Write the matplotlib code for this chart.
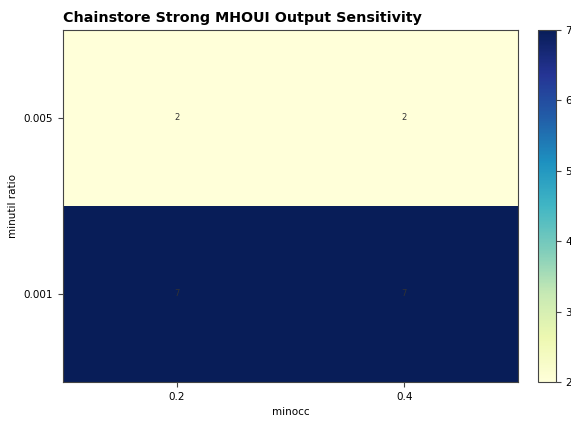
import numpy as np
import matplotlib.pyplot as plt

minocc = [0.2, 0.4]
minutil_ratio = [0.001, 0.005]
# rows follow minutil_ratio, columns follow minocc
output = np.array([
    [7, 7],
    [2, 2],
])

fig = plt.figure(figsize=(5.71, 4.22), dpi=100)
ax = fig.add_axes([0.110, 0.095, 0.797, 0.834])
cax = fig.add_axes([0.942, 0.095, 0.031, 0.834])

im = ax.imshow(output, cmap="YlGnBu", aspect="auto", origin="lower",
               interpolation="nearest")

for i in range(len(minutil_ratio)):
    for j in range(len(minocc)):
        ax.text(j, i, str(output[i, j]), ha="center", va="center",
                fontsize=6, color="#333333")

ax.set_xticks(range(len(minocc)))
ax.set_xticklabels([str(v) for v in minocc], fontsize=7.5)
ax.set_yticks(range(len(minutil_ratio)))
ax.set_yticklabels([str(v) for v in minutil_ratio], fontsize=7.5)
ax.set_xlabel("minocc", fontsize=7.5)
ax.set_ylabel("minutil ratio", fontsize=7.5)
ax.set_title("Chainstore Strong MHOUI Output Sensitivity", loc="left",
             fontsize=10.3, fontweight="bold")
for s in ax.spines.values():
    s.set_edgecolor("#444444")
ax.tick_params(color="#444444")

cb = fig.colorbar(im, cax=cax)
cb.ax.tick_params(labelsize=7.5, color="#444444")
cb.outline.set_edgecolor("#444444")

fig.savefig("out.png", dpi=100)
